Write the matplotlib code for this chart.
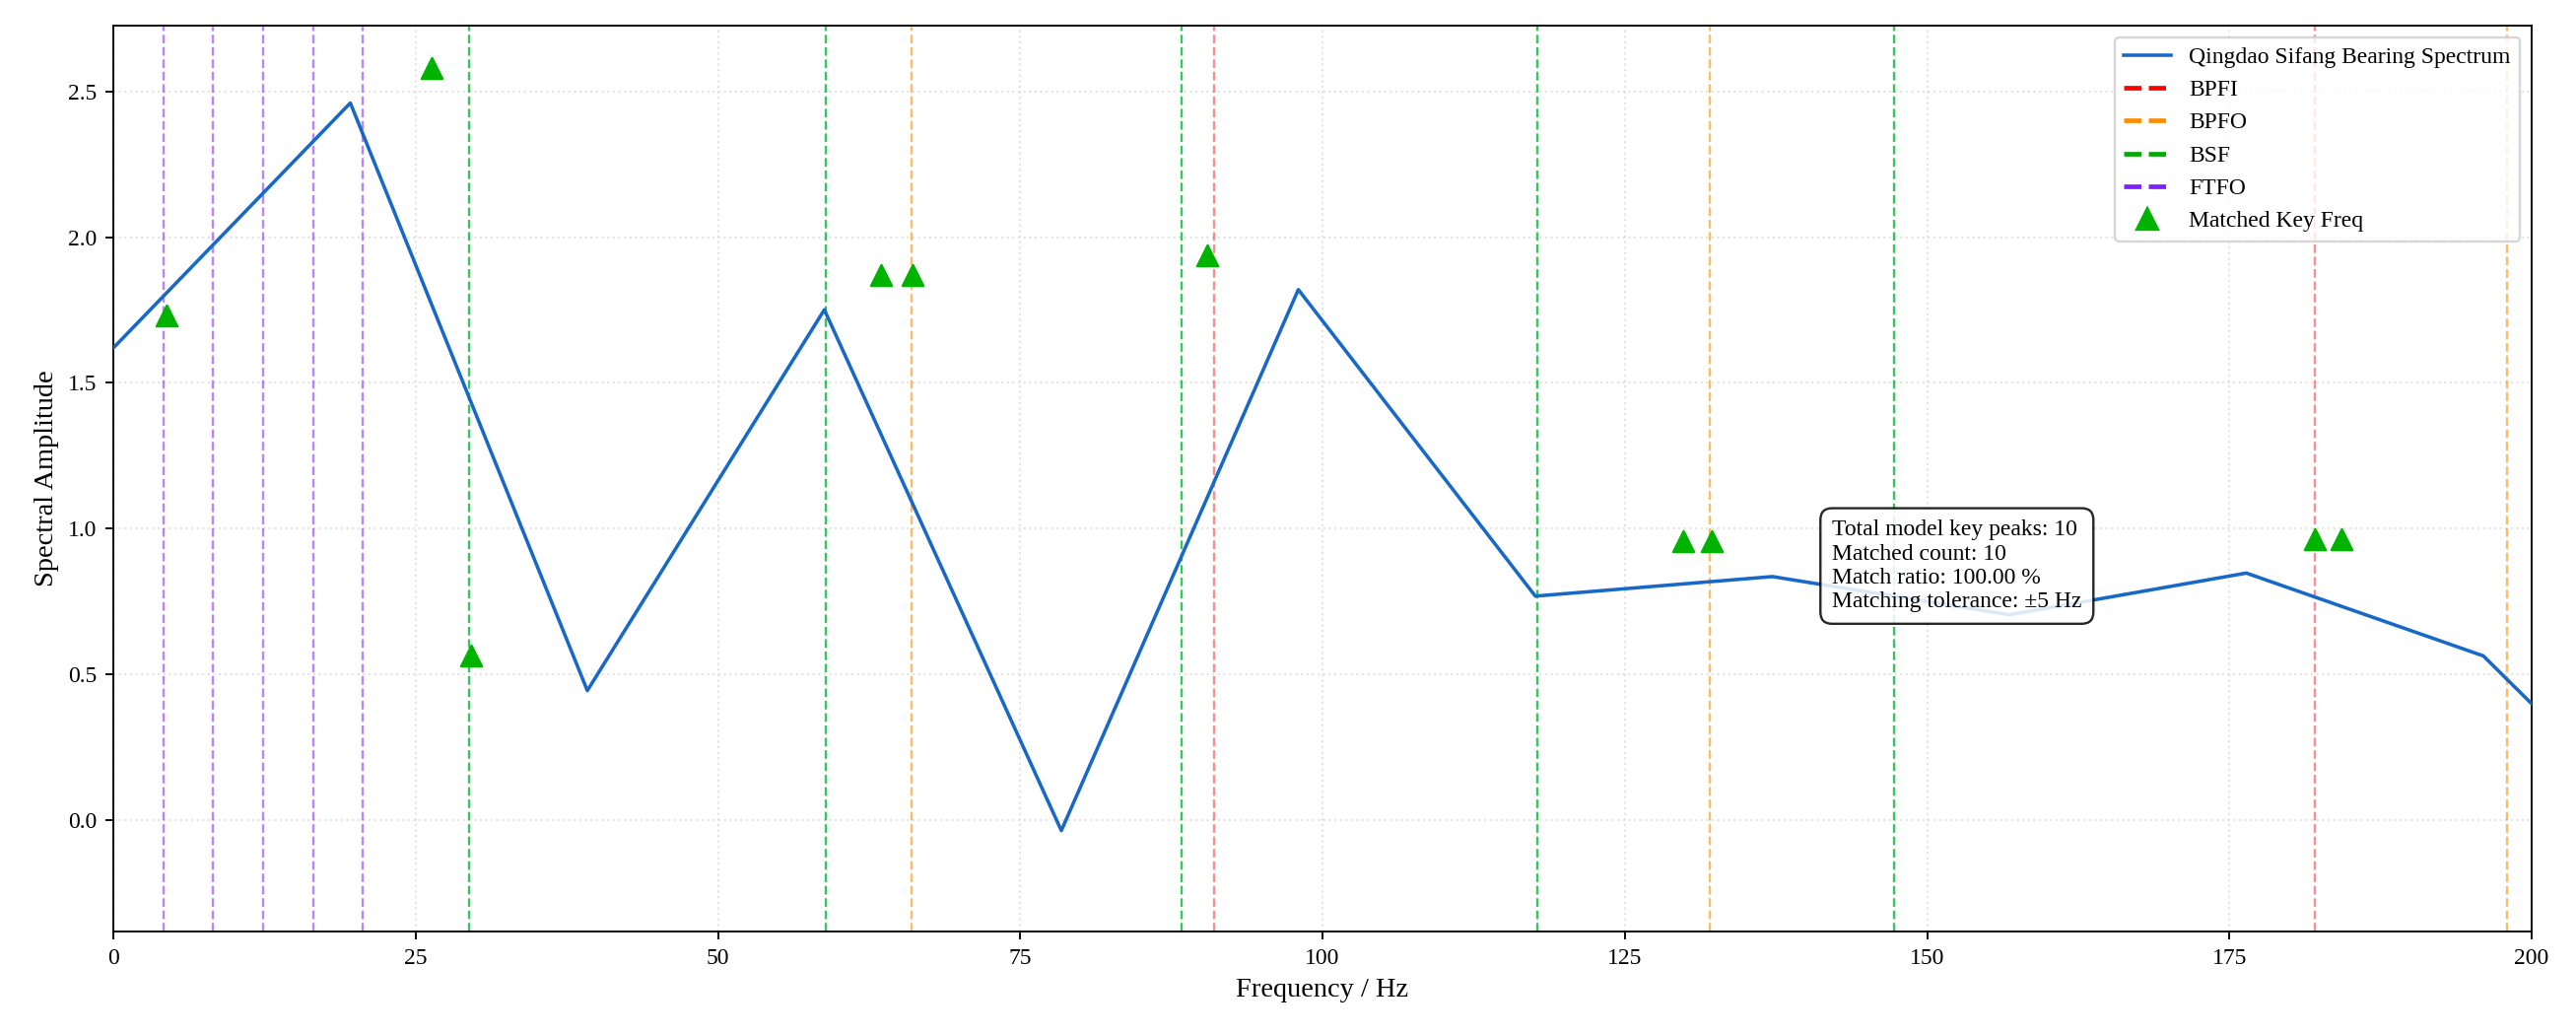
import matplotlib
matplotlib.use('Agg')
import matplotlib.pyplot as plt
from matplotlib.lines import Line2D

plt.rcParams['font.family'] = 'serif'
plt.rcParams['font.serif'] = ['Liberation Serif', 'Times New Roman', 'DejaVu Serif']

# spectrum (Hz, amplitude)
freq = [0.0, 19.6, 39.2, 58.8, 78.4, 98.0, 117.6, 137.2, 156.8, 176.4, 196.0, 215.6]
amp = [1.62, 2.46, 0.445, 1.751, -0.035, 1.82, 0.769, 0.836, 0.705, 0.848, 0.564, -0.24]

# bearing characteristic frequencies and their harmonics
bpfi_lines = [91.05, 182.1]
bpfo_lines = [66.0, 132.0, 198.0]
bsf_lines = [29.45, 58.9, 88.35, 117.8, 147.25]
ftf_lines = [4.13, 8.26, 12.39, 16.52, 20.65]

# matched key frequencies
match_x = [4.37, 26.3, 29.6, 63.5, 66.1, 90.5, 129.8, 132.2, 182.1, 184.3]
match_y = [1.732, 2.58, 0.567, 1.87, 1.87, 1.939, 0.958, 0.958, 0.964, 0.964]

info_text = ("Total model key peaks: 10\n"
             "Matched count: 10\n"
             "Match ratio: 100.00 %\n"
             "Matching tolerance: \u00b15 Hz")

fig = plt.figure(figsize=(2614 / 170, 1050 / 170), dpi=170)
ax = fig.add_axes([0.044, 0.1, 0.9388, 0.8752])

ax.plot(freq, amp, color='#1868c8', linewidth=1.5, zorder=3)

line_groups = [
    (bpfi_lines, 'red', 0.45),
    (bpfo_lines, 'darkorange', 0.6),
    (bsf_lines, '#00bb33', 0.8),
    (ftf_lines, '#7f1fff', 0.55),
]
for xs, c, a in line_groups:
    for x in xs:
        ax.axvline(x, color=c, linestyle='--', linewidth=1.0, alpha=a, zorder=2)

ax.scatter(match_x, match_y, marker='^', s=80, color='#00b300', zorder=4)

ax.set_xlim(0, 200)
ax.set_ylim(-0.381, 2.725)
ax.set_xlabel('Frequency / Hz', fontsize=12)
ax.set_ylabel('Spectral Amplitude', fontsize=12)
ax.tick_params(labelsize=10)
ax.grid(True, linestyle=':', color='#d8d8d8', linewidth=0.9, alpha=0.7)

handles = [
    Line2D([], [], color='#1868c8', lw=1.5, label='Qingdao Sifang Bearing Spectrum'),
    Line2D([], [], color='red', lw=2, ls='--', label='BPFI'),
    Line2D([], [], color='darkorange', lw=2, ls='--', label='BPFO'),
    Line2D([], [], color='#00aa00', lw=2, ls='--', label='BSF'),
    Line2D([], [], color='#7f1fff', lw=2, ls='--', label='FTFO'),
    Line2D([], [], color='#00b300', marker='^', ms=9, ls='none', label='Matched Key Freq'),
]
ax.legend(handles=handles, loc='upper right', fontsize=10)

ax.text(0.7107, 0.4035, info_text, transform=ax.transAxes, fontsize=10,
        va='center', ha='left', zorder=5,
        bbox=dict(boxstyle='round,pad=0.5', facecolor='white', edgecolor='black', alpha=0.85))

fig.savefig('out.png', dpi=170)
